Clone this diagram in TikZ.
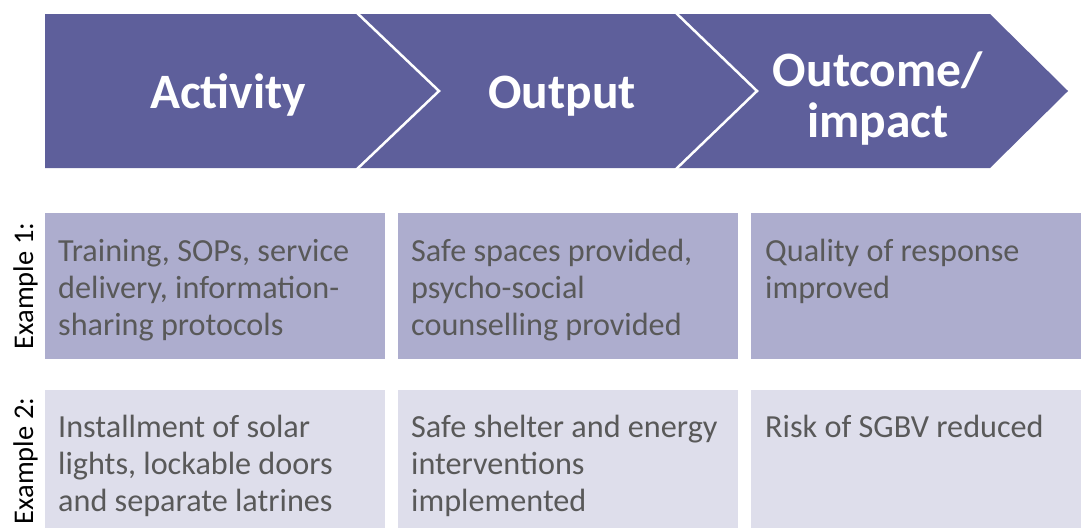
\documentclass[tikz,border=0pt]{standalone}
\usepackage{fontspec}
\setmainfont{Carlito}
\definecolor{arrowpurple}{RGB}{94,95,155}
\definecolor{boxone}{RGB}{173,173,206}
\definecolor{boxtwo}{RGB}{222,222,235}
\definecolor{bodygrey}{RGB}{89,89,89}
\begin{document}
\begin{tikzpicture}[x=1pt,y=-1pt,
  headtext/.style={text=white,font=\bfseries\fontsize{49.5}{51}\selectfont,align=center,inner sep=0pt,anchor=base},
  bodytext/.style={text=bodygrey,font=\fontsize{32.2}{37}\selectfont,align=left,inner sep=0pt,anchor=base west},
  exlabel/.style={text=black,font=\fontsize{28.5}{34}\selectfont,inner sep=0pt,anchor=base,rotate=90},
  sepline/.style={draw=white,line width=2.5pt}]
\useasboundingbox (0,0) rectangle (1081,528);
% header chevrons
\fill[arrowpurple] (45,14) -- (358,14) -- (439,91) -- (358,168) -- (45,168) -- cycle;
\fill[arrowpurple] (358,14) -- (677,14) -- (757,91) -- (677,168) -- (358,168) -- (439,91) -- cycle;
\fill[arrowpurple] (677,14) -- (990,14) -- (1068,91) -- (990,168) -- (677,168) -- (757,91) -- cycle;
\draw[sepline] (355,11) -- (439,91) -- (355,171);
\draw[sepline] (674,11) -- (757,91) -- (674,171);
\node[headtext] (activity) at (228,108) {Activity};
\node[headtext] (output) at (562,108) {Output};
\node[headtext] (outcome) at (878,137) {Outcome/\\impact};
% boxes
\fill[boxone] (45,213) rectangle (385,359);
\fill[boxone] (398,213) rectangle (738,359);
\fill[boxone] (751,213) rectangle (1081,359);
\fill[boxtwo] (45,390) rectangle (385,528);
\fill[boxtwo] (398,390) rectangle (738,528);
\fill[boxtwo] (751,390) rectangle (1081,528);
% labels
\node[exlabel] (ex1) at (33,286) {Example 1:};
\node[exlabel] (ex2) at (33,461) {Example 2:};
% body texts (base anchor = last line's baseline)
\node[bodytext] (a1) at (58,335) {Training, SOPs, service\\delivery, information-\\sharing protocols};
\node[bodytext] (o1) at (411,335) {Safe spaces provided,\\psycho-social\\counselling provided};
\node[bodytext] (i1) at (765,298) {Quality of response\\improved};
\node[bodytext] (a2) at (58,511) {Installment of solar\\lights, lockable doors\\and separate latrines};
\node[bodytext] (o2) at (411,511) {Safe shelter and energy\\interventions\\implemented};
\node[bodytext] (i2) at (765,437) {Risk of SGBV reduced};
\end{tikzpicture}
\end{document}
